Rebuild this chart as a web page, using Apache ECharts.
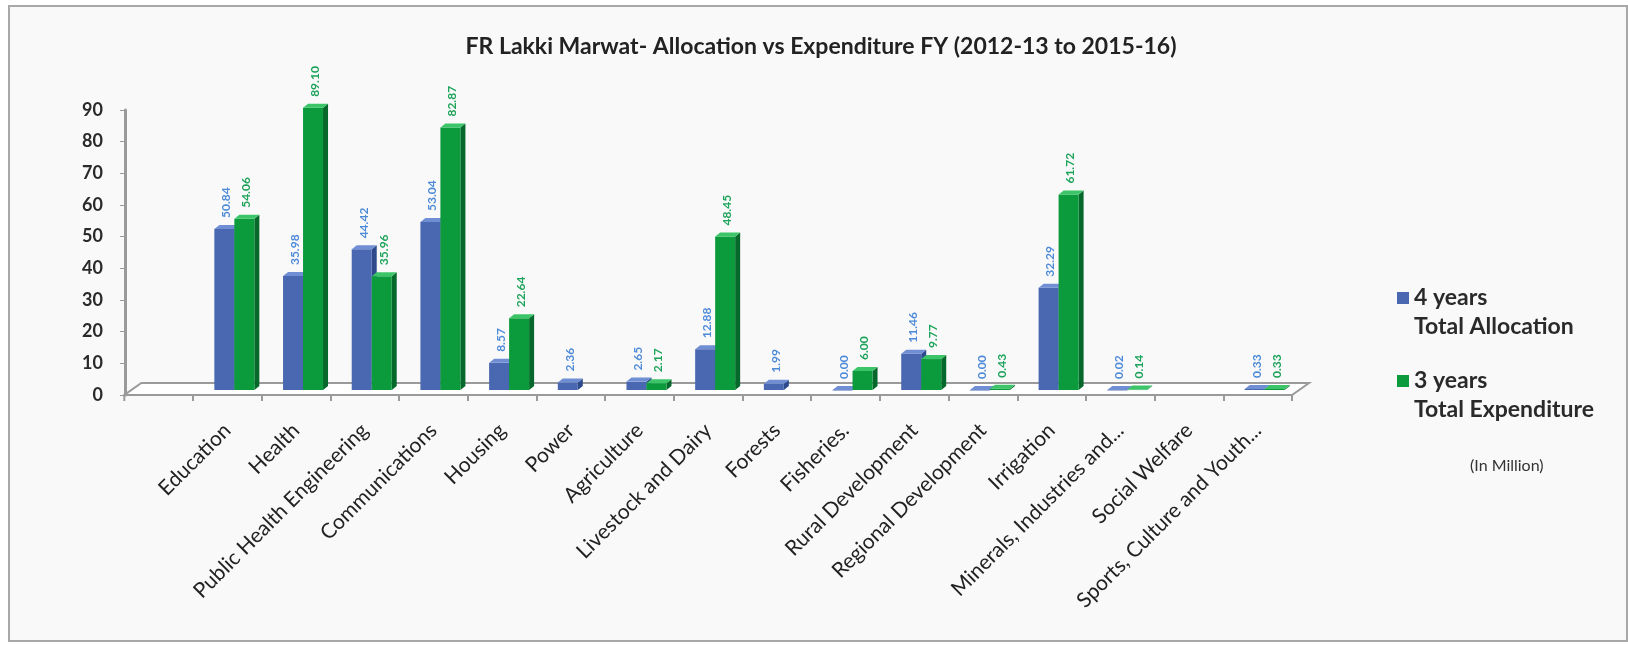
<!DOCTYPE html>
<html>
<head>
<meta charset="utf-8">
<title>FR Lakki Marwat - Allocation vs Expenditure</title>
<script src="https://cdn.jsdelivr.net/npm/echarts@6/dist/echarts.min.js"></script>
<style>
  html, body { margin: 0; padding: 0; background: #ffffff; }
  #chart { width: 1628px; height: 645px; }
</style>
</head>
<body>
<div id="chart"></div>
<script>
// Sector names along the category axis
const categories = [
  'Education', 'Health', 'Public Health Engineering', 'Communications',
  'Housing', 'Power', 'Agriculture', 'Livestock and Dairy', 'Forests',
  'Fisheries.', 'Rural Development', 'Regional Development', 'Irrigation',
  'Minerals, Industries and...', 'Social Welfare', 'Sports, Culture and Youth...'
];

// Series names (shown in the legend)
const allocationName = ['4 years', 'Total Allocation'];
const expenditureName = ['3 years', 'Total Expenditure'];

// Rs. in million; null = no bar
const allocation = [50.84, 35.98, 44.42, 53.04, 8.57, 2.36, 2.65, 12.88, 1.99, 0.00, 11.46, 0.00, 32.29, 0.02, null, 0.33];
const expenditure = [54.06, 89.10, 35.96, 82.87, 22.64, null, 2.17, 48.45, null, 6.00, 9.77, 0.43, 61.72, 0.14, null, 0.33];

// Value axis ticks
const yMin = 0, yMax = 90, yStep = 10;

const FONT = 'Lato, "Open Sans", sans-serif';

// Colours of the faces of each bar (front, side, top) and its value label
const palette = {
  alloc: { front: '#4a68b2', side: '#2f4a8c', top: '#6f8ed3', label: '#4d8ad8' },
  exp:   { front: '#0b9b3c', side: '#06682a', top: '#3cc568', label: '#1ca35a' }
};

// Depth of the bars and of the floor
const BAR_W = 20, BAR_SHIFT = 7, BAR_LIFT = 5, BAR_DX = 5, BAR_DY = -4;
const FLOOR_DX = 17, FLOOR_DY = -12;

function toItems(values) {
  const out = [];
  values.forEach((v, i) => { if (v !== null && v !== undefined) out.push([i, v]); });
  return out;
}

// One bar drawn as a small prism: front face, right side, top face, and a rotated value label
function makeBarRenderer(side, colors) {
  return function (params, api) {
    const i = api.value(0);
    const v = api.value(1);
    const base = api.coord([i, 0]);
    const topPt = api.coord([i, v]);
    const x0 = base[0] + BAR_SHIFT + (side < 0 ? -BAR_W : 0);
    const yb = base[1] - BAR_LIFT;
    const yt = topPt[1] - BAR_LIFT;
    const x1 = x0 + BAR_W;
    const children = [
      {
        type: 'polygon',
        shape: { points: [[x1, yt], [x1 + BAR_DX, yt + BAR_DY], [x1 + BAR_DX, yb + BAR_DY], [x1, yb]] },
        style: { fill: colors.side }
      },
      {
        type: 'rect',
        shape: { x: x0, y: yt, width: BAR_W, height: Math.max(yb - yt, 0.5) },
        style: { fill: colors.front }
      },
      {
        type: 'polygon',
        shape: { points: [[x0, yt], [x1, yt], [x1 + BAR_DX, yt + BAR_DY], [x0 + BAR_DX, yt + BAR_DY]] },
        style: { fill: colors.top }
      },
      {
        type: 'text',
        x: x0 + BAR_W / 2 + 2,
        y: yt + BAR_DY - 7,
        rotation: Math.PI / 2,
        style: {
          text: v.toFixed(2),
          fill: colors.label,
          font: 'bold 12px ' + FONT,
          align: 'left',
          verticalAlign: 'middle'
        }
      }
    ];
    return { type: 'group', children: children };
  };
}

// Floor of the plot: a flat slab whose front edge is the category axis line
function renderFloor(params, api) {
  const cs = params.coordSys;
  const catW = api.size([1, 0])[0];
  const left = cs.x - catW;
  const right = cs.x + cs.width;
  const bottom = cs.y + cs.height;
  return {
    type: 'group',
    children: [
      {
        type: 'polygon',
        shape: { points: [[left, bottom], [right, bottom], [right + FLOOR_DX, bottom + FLOOR_DY], [left + FLOOR_DX, bottom + FLOOR_DY]] },
        style: { fill: '#ffffff', stroke: '#9a9a9a', lineWidth: 2 }
      },
      {
        type: 'line',
        shape: { x1: left, y1: bottom, x2: left, y2: bottom + 6 },
        style: { stroke: '#9a9a9a', lineWidth: 2 }
      }
    ]
  };
}

const chart = echarts.init(document.getElementById('chart'), null, { renderer: 'canvas' });

const legendItems = [
  { lines: allocationName, color: palette.alloc.front, y: 298 },
  { lines: expenditureName, color: palette.exp.front, y: 381 }
];
const legendGraphics = [];
legendItems.forEach(it => {
  legendGraphics.push({
    type: 'rect', left: 1397, top: it.y - 6,
    shape: { width: 12, height: 12 },
    style: { fill: it.color }
  });
  legendGraphics.push({
    type: 'text', left: 1414, top: it.y - 15,
    style: {
      text: it.lines.join('\n'),
      font: 'bold 23px ' + FONT,
      lineHeight: 29,
      fill: '#2a2a2a'
    }
  });
});

const option = {
  backgroundColor: '#ffffff',
  animation: false,
  title: {
    text: 'FR Lakki Marwat- Allocation vs Expenditure FY (2012-13 to 2015-16)',
    left: 816, top: 30, textAlign: 'center',
    textStyle: { fontFamily: FONT, fontSize: 23, fontWeight: 'bold', color: '#222222' }
  },
  graphic: [
    {
      type: 'rect', left: 8, top: 5, z: -10,
      shape: { width: 1618, height: 635 },
      style: { fill: '#f9f9f9', stroke: '#a8a8a8', lineWidth: 2 }
    },
    ...legendGraphics,
    {
      type: 'text', left: 1470, top: 458,
      style: { text: '(In Million)', font: '16px ' + FONT, fill: '#333333' }
    }
  ],
  grid: { left: 193, right: 336, top: 110, bottom: 250, containLabel: false },
  xAxis: {
    type: 'category',
    data: categories,
    boundaryGap: true,
    axisLine: { show: false },
    axisTick: { show: true, length: 6, lineStyle: { color: '#9a9a9a', width: 2 } },
    axisLabel: {
      rotate: 45, margin: 32, interval: 0,
      fontFamily: FONT, fontSize: 21, color: '#222222'
    },
    splitLine: { show: false }
  },
  yAxis: {
    type: 'value',
    min: yMin, max: yMax, interval: yStep,
    offset: 68,
    axisLine: { show: true, lineStyle: { color: '#9a9a9a', width: 3 } },
    axisTick: { show: true, length: 5, lineStyle: { color: '#9a9a9a', width: 1 } },
    axisLabel: { fontFamily: FONT, fontSize: 18, fontWeight: 'bold', color: '#2a2a2a', margin: 22 },
    splitLine: { show: false }
  },
  series: [
    {
      type: 'custom', name: 'floor', silent: true, z: 1,
      data: [[0, 0]],
      renderItem: renderFloor
    },
    {
      type: 'custom', name: allocationName.join(' '), z: 3,
      data: toItems(allocation),
      encode: { x: 0, y: 1 },
      renderItem: makeBarRenderer(-1, palette.alloc)
    },
    {
      type: 'custom', name: expenditureName.join(' '), z: 3,
      data: toItems(expenditure),
      encode: { x: 0, y: 1 },
      renderItem: makeBarRenderer(1, palette.exp)
    }
  ]
};

chart.setOption(option);
</script>
</body>
</html>
